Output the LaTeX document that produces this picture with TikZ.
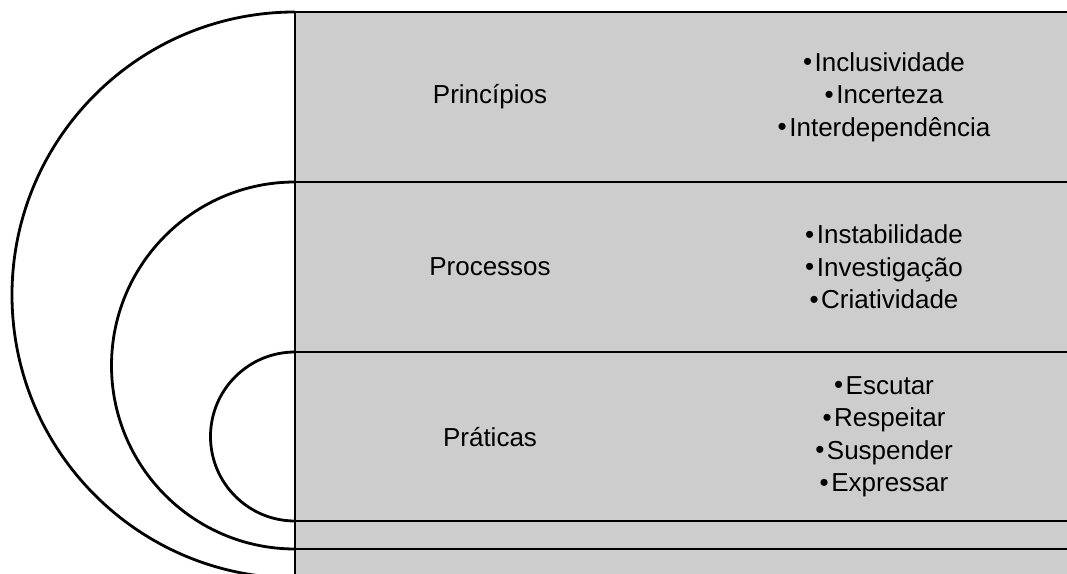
\documentclass[tikz,border=0pt]{standalone}
\usepackage{fontspec}
\setmainfont{Liberation Sans}
\definecolor{bandgray}{RGB}{205,205,205}
\newcommand\mybul{\raisebox{0.5pt}{•}\kern2.5pt}
\begin{document}
\begin{tikzpicture}[x=1pt,y=1pt,
  band/.style={draw=black, line width=2.8pt, fill=bandgray, anchor=north west,
    inner sep=0pt, outer sep=0pt, minimum width=800pt},
  arcline/.style={draw=black, line width=2.8pt},
  lbl/.style={font=\fontsize{26}{32}\selectfont, align=center, inner sep=0pt},
  txt/.style={font=\fontsize{26}{32.5}\selectfont, align=center, inner sep=0pt}]
\useasboundingbox (0,0) rectangle (1067,573);
\clip (0,0) rectangle (1067,573);
\node[band, minimum height=40pt] (b5) at (295,24) {};
\node[band, minimum height=28pt] (b4) at (295,52) {};
\node[band, minimum height=169pt] (b3) at (295,221) {};
\node[band, minimum height=170pt] (b2) at (295,391) {};
\node[band, minimum height=170pt] (b1) at (295,561) {};
\draw[arcline] (b1.north west) arc[start angle=90, end angle=270, radius=283];
\draw[arcline] (b2.north west) arc[start angle=90, end angle=270, radius=183.5];
\draw[arcline] (b3.north west) arc[start angle=90, end angle=270, radius=84.5];
\node[lbl] (l1) at (490,476) {Princípios};
\node[lbl] (l2) at (490,306) {Processos};
\node[lbl] (l3) at (490,136) {Práticas};
\node[txt] (t1) at (884,476) {\mybul Inclusividade\\\mybul Incerteza\\\mybul Interdependência};
\node[txt] (t2) at (884,306) {\mybul Instabilidade\\\mybul Investigação\\\mybul Criatividade};
\node[txt] (t3) at (884,136) {\mybul Escutar\\\mybul Respeitar\\\mybul Suspender\\\mybul Expressar};
\end{tikzpicture}
\end{document}
